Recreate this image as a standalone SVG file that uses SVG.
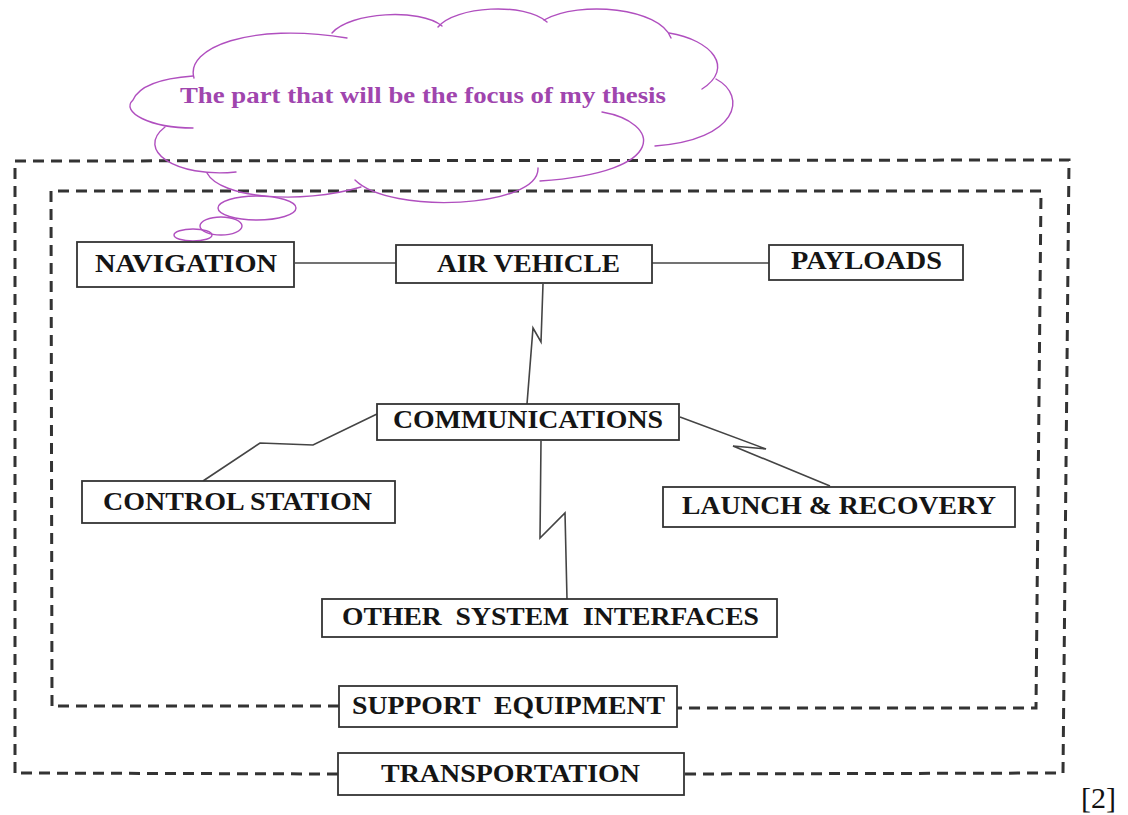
<svg xmlns="http://www.w3.org/2000/svg" width="1128" height="815" viewBox="0 0 1128 815">
<style>
.box{fill:#fff;stroke:#333;stroke-width:1.8}
.lbl{font-family:"Liberation Serif","Times New Roman",serif;font-weight:bold;font-size:25px;fill:#151515}
.dash{fill:none;stroke:#333;stroke-width:3;stroke-dasharray:11 7}
.conn{fill:none;stroke:#444;stroke-width:1.6;stroke-linejoin:miter}
.cloud{fill:none;stroke:#b04fbf;stroke-width:1.4;stroke-linecap:round}
.think{font-family:"Liberation Serif","Times New Roman",serif;font-weight:bold;font-size:23px;fill:#a045ae}
</style>
<rect width="1128" height="815" fill="#fff"/>
<g id="frames">
<path class="dash" d="M15,773 L15,161 L1069,160 L1063,773 L684,774"/>
<path class="dash" d="M338,774 L15,773"/>
<path class="dash" d="M52,706 L51,191 L1041,191 L1036,708 L677,708"/>
<path class="dash" d="M339,706 L52,706"/>
</g>
<g id="connectors">
<line class="conn" x1="295" y1="263" x2="396" y2="263"/>
<line class="conn" x1="652" y1="263" x2="769" y2="263"/>
<polyline class="conn" points="543,284 541,342 533,328 527,404"/>
<polyline class="conn" points="377,414 313,445 260,443 203,481"/>
<polyline class="conn" points="680,417 766,449 733,446 830,486"/>
<polyline class="conn" points="541,441 540,538 565,513 567,599"/>
</g>
<g id="cloud">
<path class="cloud" d="M194,78 C185,48 250,22 347,38"/>
<path class="cloud" d="M332,33 C350,12 420,8 442,26"/>
<path class="cloud" d="M438,27 C455,6 525,2 547,22"/>
<path class="cloud" d="M544,20 C580,0 660,8 671,38"/>
<path class="cloud" d="M669,33 C712,40 735,68 702,89"/>
<path class="cloud" d="M716,79 C748,96 738,140 655,146"/>
<path class="cloud" d="M602,112 C660,122 672,172 540,181"/>
<path class="cloud" d="M538,168 C540,208 390,215 355,180"/>
<path class="cloud" d="M361,187 C300,205 220,198 207,173"/>
<path class="cloud" d="M236,172 C175,178 135,150 165,127"/>
<path class="cloud" d="M193,128 C150,128 120,112 133,100 C140,84 165,78 193,76"/>
<ellipse class="cloud" cx="257" cy="208" rx="39" ry="12"/>
<ellipse class="cloud" cx="221" cy="226" rx="21" ry="9"/>
<ellipse class="cloud" cx="193" cy="235" rx="19" ry="6"/>
<text class="think" x="180" y="103" textLength="486" lengthAdjust="spacingAndGlyphs">The part that will be the focus of my thesis</text>
</g>
<g id="navigation">
<rect class="box" x="77" y="242" width="217" height="45"/>
<text class="lbl" x="95" y="272" textLength="182" lengthAdjust="spacingAndGlyphs">NAVIGATION</text>
</g>
<g id="air-vehicle">
<rect class="box" x="396" y="245" width="256" height="38"/>
<text class="lbl" x="437" y="272" textLength="183" lengthAdjust="spacingAndGlyphs">AIR VEHICLE</text>
</g>
<g id="payloads">
<rect class="box" x="769" y="245" width="194" height="35"/>
<text class="lbl" x="791" y="269" textLength="151" lengthAdjust="spacingAndGlyphs">PAYLOADS</text>
</g>
<g id="communications">
<rect class="box" x="377" y="404" width="302" height="36"/>
<text class="lbl" x="393" y="428" textLength="270" lengthAdjust="spacingAndGlyphs">COMMUNICATIONS</text>
</g>
<g id="control-station">
<rect class="box" x="82" y="481" width="313" height="42"/>
<text class="lbl" x="103" y="510" textLength="269" lengthAdjust="spacingAndGlyphs">CONTROL STATION</text>
</g>
<g id="launch-recovery">
<rect class="box" x="663" y="487" width="352" height="40"/>
<text class="lbl" x="682" y="514" textLength="314" lengthAdjust="spacingAndGlyphs">LAUNCH &amp; RECOVERY</text>
</g>
<g id="other-system-interfaces">
<rect class="box" x="322" y="599" width="455" height="38"/>
<text class="lbl" x="342" y="625" textLength="417" lengthAdjust="spacingAndGlyphs" xml:space="preserve">OTHER  SYSTEM  INTERFACES</text>
</g>
<g id="support-equipment">
<rect class="box" x="339" y="686" width="338" height="41"/>
<text class="lbl" x="352" y="714" textLength="313" lengthAdjust="spacingAndGlyphs" xml:space="preserve">SUPPORT  EQUIPMENT</text>
</g>
<g id="transportation">
<rect class="box" x="338" y="753" width="346" height="42"/>
<text class="lbl" x="381" y="782" textLength="259" lengthAdjust="spacingAndGlyphs">TRANSPORTATION</text>
</g>
<text x="1081" y="808" style="font-family:'Liberation Serif','Times New Roman',serif;font-size:30px;fill:#111">[2]</text>
</svg>
